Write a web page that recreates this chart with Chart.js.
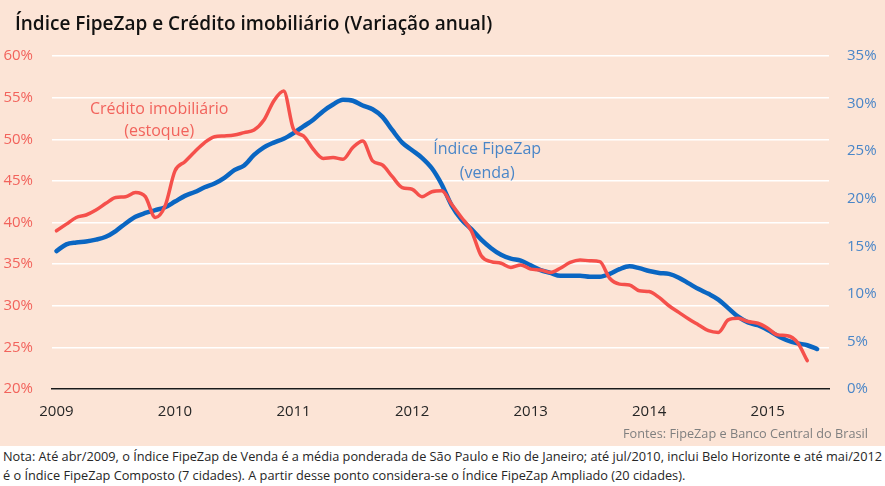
<!DOCTYPE html>
<html>
<head>
<meta charset="utf-8">
<script src="https://cdn.jsdelivr.net/npm/chart.js@4.4.1/dist/chart.umd.min.js"></script>
<style>
  html, body { margin: 0; padding: 0; background: #ffffff; }
  #wrap { position: relative; width: 885px; height: 486px; overflow: hidden; font-family: "Open Sans", "Noto Sans", sans-serif; }
  #panel { position: absolute; left: 0; top: 0; width: 885px; height: 446px; background: #FCE4D6; }
  #chart { position: absolute; left: 0; top: 0; }
  #title { position: absolute; left: 15px; top: 10px; font-size: 19px; font-weight: 600; color: #111; white-space: nowrap; }
  .sx { position: absolute; white-space: nowrap; transform-origin: 0 0; }
  #fontes { top: 424px; left: 623px; font-size: 13.5px; color: #7f7f7f; }
  #n1 { top: 447px; left: 3px; font-size: 13.5px; color: #262626; }
  #n2 { top: 466px; left: 3px; font-size: 13.5px; color: #262626; }
</style>
</head>
<body>
<div id="wrap">
  <div id="panel"></div>
  <canvas id="chart" width="885" height="446"></canvas>
  <div id="title">Índice FipeZap e Crédito imobiliário (Variação anual)</div>
  <div id="fontes" class="sx">Fontes: FipeZap e Banco Central do Brasil</div>
  <div id="n1" class="sx">Nota: Até abr/2009, o Índice FipeZap de Venda é a média ponderada de São Paulo e Rio de Janeiro; até jul/2010, inclui Belo Horizonte e até mai/2012</div>
  <div id="n2" class="sx">é o Índice FipeZap Composto (7 cidades). A partir desse ponto considera-se o Índice FipeZap Ampliado (20 cidades).</div>
</div>
<script>
// Months since Jan 2009 (index 0 = Jan 2009)
const yearLabels = [2009, 2010, 2011, 2012, 2013, 2014, 2015];

// Crédito imobiliário (estoque) – annual change, % (left axis)
const creditoValues = [
  39.0, 39.8, 40.6, 40.9, 41.5, 42.3, 43.0, 43.1, 43.6, 43.1, 40.6, 42.0,
  46.2, 47.3, 48.5, 49.6, 50.3, 50.4, 50.5, 50.8, 51.1, 52.3, 54.6, 55.8,
  51.2, 50.4, 48.8, 47.7, 47.8, 47.6, 49.0, 49.8, 47.4, 46.9, 45.5, 44.2,
  44.0, 43.1, 43.7, 43.8, 42.2, 40.6, 39.0, 36.0, 35.3, 35.1, 34.6, 34.9,
  34.4, 34.3, 34.0, 34.5, 35.2, 35.5, 35.4, 35.3, 33.3, 32.6, 32.5, 31.8,
  31.7, 31.0, 30.0, 29.2, 28.4, 27.7, 27.0, 26.8, 28.3, 28.5, 28.1, 27.9,
  27.3, 26.5, 26.4, 25.6, 23.4
];

// Índice FipeZap (venda) – annual change, % (right axis)
const fipezapValues = [
  14.5, 15.2, 15.4, 15.5, 15.7, 16.0, 16.6, 17.4, 18.1, 18.5, 18.8, 19.1,
  19.7, 20.3, 20.7, 21.2, 21.6, 22.2, 23.0, 23.5, 24.6, 25.4, 25.9, 26.3,
  26.9, 27.6, 28.3, 29.2, 29.9, 30.4, 30.3, 29.8, 29.4, 28.6, 27.2, 25.9,
  25.1, 24.3, 23.2, 21.5, 19.3, 17.8, 16.8, 15.7, 14.8, 14.1, 13.7, 13.5,
  13.0, 12.5, 12.2, 11.9, 11.9, 11.9, 11.8, 11.8, 12.1, 12.6, 12.9, 12.7,
  12.4, 12.2, 12.1, 11.7, 11.1, 10.5, 10.0, 9.4, 8.5, 7.6, 7.0, 6.7,
  6.2, 5.6, 5.1, 4.8, 4.6, 4.2
];

const leftTicks = [20, 25, 30, 35, 40, 45, 50, 55, 60];
const rightTicks = [0, 5, 10, 15, 20, 25, 30, 35];

const RED = '#F5504B';
const RED_TXT = '#F2635C';
const BLUE = '#0A66C2';
const BLUE_TXT = '#4A86C8';
const FONT = '"Open Sans", "Noto Sans", sans-serif';

const creditoPts = creditoValues.map((v, i) => ({ x: i, y: v }));
const fipezapPts = fipezapValues.map((v, i) => ({ x: i, y: v }));

const labelsPlugin = {
  id: 'seriesLabels',
  afterDatasetsDraw(chart) {
    const { ctx, scales } = chart;
    const xs = scales.x, yl = scales.yL;
    ctx.save();
    ctx.textAlign = 'center';
    ctx.textBaseline = 'middle';
    ctx.font = '16px ' + FONT;
    ctx.fillStyle = RED_TXT;
    let x = xs.getPixelForValue(10.4), y = yl.getPixelForValue(53.6);
    ctx.fillText('Crédito imobiliário', x, y);
    ctx.fillText('(estoque)', x, y + 22);
    ctx.fillStyle = BLUE_TXT;
    x = xs.getPixelForValue(43.6); y = yl.getPixelForValue(48.8);
    ctx.fillText('Índice FipeZap', x, y);
    ctx.fillText('(venda)', x, y + 24);
    ctx.restore();
  }
};

new Chart(document.getElementById('chart'), {
  type: 'line',
  data: {
    datasets: [
      { label: 'Crédito imobiliário (estoque)', data: creditoPts, yAxisID: 'yL',
        borderColor: RED, borderWidth: 3.5, pointRadius: 0, tension: 0.4,
        cubicInterpolationMode: 'monotone', borderCapStyle: 'round', borderJoinStyle: 'round' },
      { label: 'Índice FipeZap (venda)', data: fipezapPts, yAxisID: 'yR',
        borderColor: BLUE, borderWidth: 4.5, pointRadius: 0, tension: 0.4,
        cubicInterpolationMode: 'monotone', borderCapStyle: 'round', borderJoinStyle: 'round' }
    ]
  },
  options: {
    responsive: false,
    animation: false,
    layout: { padding: { top: 56, left: 0, right: 0, bottom: 0 } },
    plugins: { legend: { display: false }, tooltip: { enabled: false } },
    scales: {
      x: {
        type: 'linear', min: -0.45, max: 78.2,
        afterBuildTicks: s => { s.ticks = yearLabels.map(y => ({ value: (y - 2009) * 12 })); },
        afterFit: s => { s.height = 57; },
        grid: { display: false, drawTicks: false },
        border: { display: true, color: '#1a1a1a', width: 1.5 },
        ticks: { color: '#262626', font: { family: FONT, size: 15 }, padding: 14, maxRotation: 0,
                 callback: v => String(2009 + Math.round(v / 12)) }
      },
      yL: {
        position: 'left', min: 20, max: 60,
        afterBuildTicks: s => { s.ticks = leftTicks.map(v => ({ value: v })); },
        afterFit: s => { s.width = 52; },
        grid: { color: '#ffffff', lineWidth: 1.5, drawTicks: false },
        border: { display: false },
        ticks: { color: RED_TXT, font: { family: FONT, size: 15 }, padding: 19, callback: v => v + '%' }
      },
      yR: {
        position: 'right', min: 0, max: 35,
        afterBuildTicks: s => { s.ticks = rightTicks.map(v => ({ value: v })); },
        afterFit: s => { s.width = 56; },
        grid: { display: false, drawTicks: false },
        border: { display: false },
        ticks: { color: BLUE_TXT, font: { family: FONT, size: 15 }, padding: 18, callback: v => v + '%' }
      }
    }
  },
  plugins: [labelsPlugin]
});

// condense footnote texts to the widths they occupy in the picture
function fit(id, w) {
  const el = document.getElementById(id);
  const r = el.getBoundingClientRect().width;
  el.style.transform = 'scaleX(' + (w / r) + ')';
  return w / r;
}
const k = fit('n1', 879);
document.getElementById('n2').style.transform = 'scaleX(' + k + ')';
fit('fontes', 245);
</script>
</body>
</html>
